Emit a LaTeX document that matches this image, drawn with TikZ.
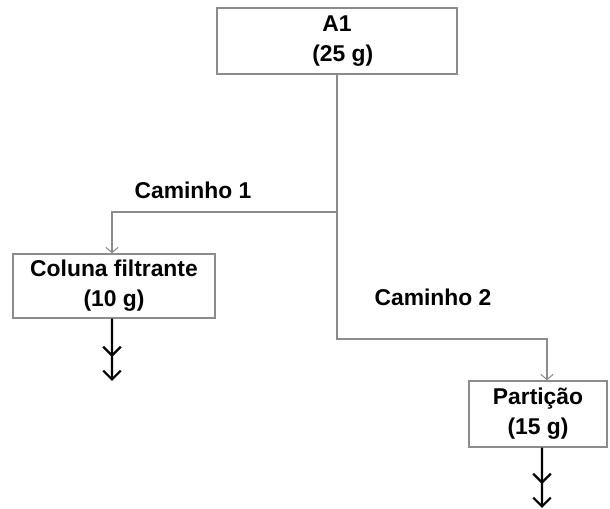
\documentclass[tikz,border=0pt]{standalone}
\usepackage{fontspec}
\setmainfont{Liberation Sans}
\usetikzlibrary{arrows.meta,positioning,calc}
\definecolor{boxline}{HTML}{8C8C8C}

\begin{document}
\begin{tikzpicture}[
  x=0.02cm, y=-0.02cm,
  every node/.style={font=\fontsize{13}{17}\selectfont\bfseries},
  stage/.style={rectangle, draw=boxline, line width=0.8pt, fill=white,
    align=center, inner sep=0pt},
  link/.style={-{Straight Barb[length=3pt,width=7pt]}, boxline, line width=0.6pt},
  outflow/.style={-{Straight Barb[length=5pt,width=10pt,sep=7pt]Straight Barb[length=5pt,width=10pt]},
    black, line width=1.3pt},
  pathlabel/.style={inner sep=0pt},
]
\useasboundingbox (0,0) rectangle (610,509);

% Boxes
\node[stage, minimum width=240*0.02cm, minimum height=66*0.02cm] (a1) at (337,41) {A1\\\hspace*{0.5em}(25 g)};
\node[stage, minimum width=202*0.02cm, minimum height=64*0.02cm] (coluna) at (114,286) {Coluna filtrante\\(10 g)};
\node[stage, minimum width=138*0.02cm, minimum height=66*0.02cm] (particao) at (538,414) {Partição\\(15 g)};

% Labels
\node[pathlabel] (cam1) at (193,190) {Caminho 1};
\node[pathlabel] (cam2) at (433,297) {Caminho 2};

% Split points and ends
\coordinate (split1) at (337,212);
\coordinate (end1) at (112,381);
\coordinate (end2) at (542,508);

% Arrows
\draw[link] (a1.south) -- (split1) -| ([xshift=-0.04cm]coluna.north);
\draw[link] (split1) |- (337,339) -| ([xshift=0.18cm]particao.north);
\draw[outflow] ([xshift=-0.04cm]coluna.south) -- (end1);
\draw[outflow] ([xshift=0.08cm]particao.south) -- (end2);
\end{tikzpicture}
\end{document}
